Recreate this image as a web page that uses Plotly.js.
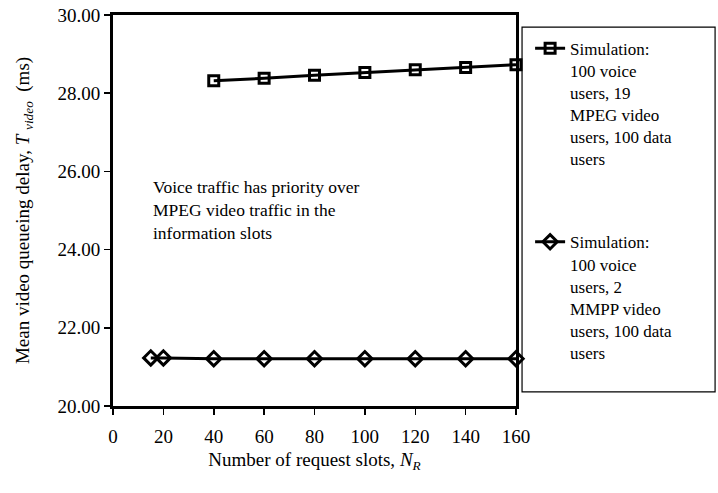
<!DOCTYPE html>
<html>
<head>
<meta charset="utf-8">
<script src="https://cdn.plot.ly/plotly-3.0.1.min.js"></script>
<style>html,body{margin:0;padding:0;background:#fff;}#chart{width:718px;height:493px;}</style>
</head>
<body>
<div id="chart"></div>
<script>
// Data
const mpegSlots = [40, 60, 80, 100, 120, 140, 160];
const mpegDelay = [28.32, 28.38, 28.46, 28.53, 28.60, 28.66, 28.73];
const mmppSlots = [15, 20, 40, 60, 80, 100, 120, 140, 160];
const mmppDelay = [21.23, 21.23, 21.21, 21.21, 21.21, 21.21, 21.21, 21.21, 21.21];
const xTicks = [0, 20, 40, 60, 80, 100, 120, 140, 160];
const yTicks = [20, 22, 24, 26, 28, 30];
const mpegName = "Simulation:<br>100 voice<br>users, 19<br>MPEG video<br>users, 100 data<br>users";
const mmppName = "Simulation:<br>100 voice<br>users, 2<br>MMPP video<br>users, 100 data<br>users";
const noteText = "Voice traffic has priority over<br>MPEG video traffic in the<br>information slots";

const FONT = "Liberation Serif, Times New Roman, serif";

const traces = [
  {
    x: mpegSlots, y: mpegDelay, name: mpegName, type: "scatter", mode: "lines+markers",
    legendgroup: "a", cliponaxis: false,
    line: {color: "#000", width: 3},
    marker: {symbol: "square-open", size: 10, color: "#000", line: {width: 3, color: "#000"}}
  },
  {
    x: mmppSlots, y: mmppDelay, name: mmppName, type: "scatter", mode: "lines+markers",
    legendgroup: "b", cliponaxis: false,
    line: {color: "#000", width: 3},
    marker: {symbol: "diamond-open", size: 11, color: "#000", line: {width: 3, color: "#000"}}
  }
];

const layout = {
  width: 718, height: 493,
  margin: {l: 113, r: 202, t: 15, b: 87, pad: 0},
  paper_bgcolor: "#fff", plot_bgcolor: "#fff",
  font: {family: FONT, color: "#000", size: 19},
  showlegend: true,
  legend: {
    x: 1.035, y: 0.96, xanchor: "left", yanchor: "top",
    font: {family: FONT, size: 17, color: "#000"},
    bgcolor: "rgba(0,0,0,0)", borderwidth: 0,
    valign: "top", tracegroupgap: 58, traceorder: "grouped"
  },
  xaxis: {
    range: [0, 160], tickvals: xTicks, ticktext: xTicks.map(String),
    showgrid: false, zeroline: false,
    showline: true, linecolor: "#000", linewidth: 3, mirror: true,
    ticks: "outside", ticklen: 6, tickwidth: 1.5, tickcolor: "#000",
    ticklabelstandoff: 5,
    tickfont: {family: FONT, size: 19, color: "#000"},
    title: {text: "Number of request slots, <i>N</i><sub><i>R</i></sub>", font: {family: FONT, size: 19, color: "#000"}, standoff: 7}
  },
  yaxis: {
    range: [20, 30], tickvals: yTicks, tickformat: ".2f",
    showgrid: false, zeroline: false,
    showline: true, linecolor: "#000", linewidth: 3, mirror: true,
    ticks: "outside", ticklen: 6, tickwidth: 1.5, tickcolor: "#000",
    tickfont: {family: FONT, size: 19, color: "#000"},
    title: {text: "Mean video queueing delay, <i>T</i> <sub><i>video</i></sub>  (ms)", font: {family: FONT, size: 19, color: "#000"}, standoff: 23}
  },
  shapes: [
    {type: "rect", xref: "paper", yref: "paper", x0: 1.015, x1: 1.494, y0: 0.036, y1: 0.969,
     line: {color: "#000", width: 1.2}, fillcolor: "rgba(0,0,0,0)"}
  ],
  annotations: [
    {xref: "paper", yref: "paper", x: 0.095, y: 0.592, xanchor: "left", yanchor: "top",
     text: noteText, showarrow: false, align: "left",
     font: {family: FONT, size: 17.5, color: "#000"}}
  ]
};

Plotly.newPlot("chart", traces, layout, {staticPlot: true, displayModeBar: false});
</script>
</body>
</html>
